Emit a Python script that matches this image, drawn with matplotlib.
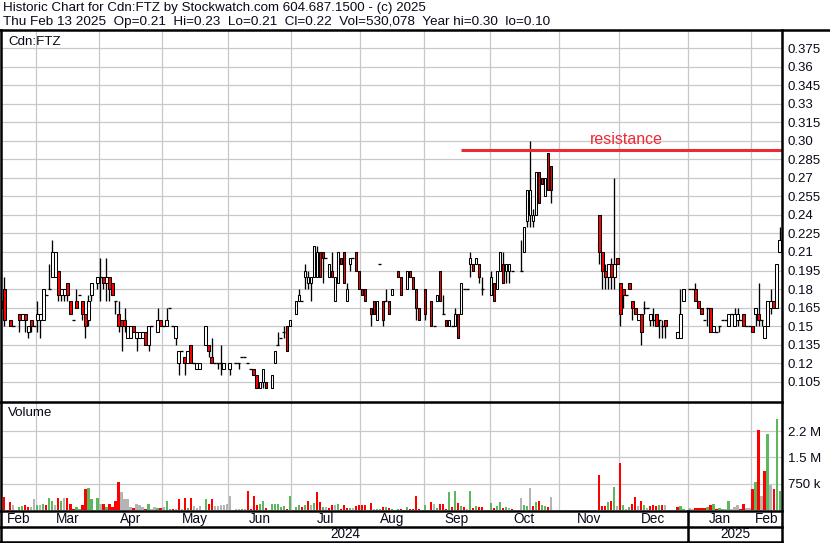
import numpy as np
import pandas as pd
import matplotlib
matplotlib.use("Agg")
import matplotlib.pyplot as plt
from matplotlib.transforms import blended_transform_factory

plt.rcParams['font.family'] = ['Liberation Sans', 'DejaVu Sans']

N = None  # no trade that day

# daily candles, one slot per trading day (Feb 13 2024 .. Feb 13 2025)
opens = [
    .17, .18, N, .155, .15, N, .16, .155, .16, .145,
    .155, .15, .155, .155, .155, .175, .18, .19, .19, .195,
    .175, .175, .185, .17, .155, .17, .175, .17, .16, .155,
    .175, N, .185, .19, .19, .185, .19, .185, .17, .16,
    .155, .155, .14, .14, .15, .14, .14, .14, .145, .135,
    .15, N, .145, .155, .15, .15, .165, .15, .14, .12,
    .13, .125, .12, .135, .12, .115, .115, N, .135, .135,
    .125, .12, .12, .12, .115, N, .115, N, .12, .12,
    .125, .125, .12, .115, .115, .11, .10, .105, .105, N,
    .10, .12, .135, .14, .145, .15, .15, N, .16, .17,
    .17, .19, .185, .185, .19, .19, .21, .21, .205, .19,
    .195, .17, .185, .205, .21, .17, .20, .205, .21, .195,
    .18, .18, N, .165, .17, .155, .20, .17, .17, .17,
    .175, N, .195, .19, N, .18, .195, .19, .18, .165,
    N, .18, N, .17, .15, .17, .195, .16, .155, .15,
    .15, .15, .16, .16, .18, .18, .20, .20, .20, .20,
    .18, N, N, .175, .185, .18, .195, .20, .195, .195,
    .195, N, N, .195, .21, .235, .24, .235, .24, .275,
    .27, .255, .29, .28, N, N, N, N, N, N,
    N, N, N, N, N, N, N, N, N, .24,
    .21, .195, .19, .20, .19, .205, .185, .18, .175, .185,
    .17, .165, .155, .16, .165, .165, .155, .155, .16, .155,
    .15, .155, N, N, N, .14, .14, .17, N, .18,
    .18, .18, .17, .165, .155, .165, .165, .145, .145, .15,
    .155, .155, .15, .16, .15, .155, .155, .16, .15, .15,
    .15, .16, .16, .155, .14, .15, .165, .17, .165, .21,
]
highs = [
    .17, .19, N, .155, .15, N, .16, .16, .16, .15,
    .155, .15, .17, .16, .18, .175, .20, .22, .21, .195,
    .18, .18, .185, .17, .155, .18, .175, .17, .16, .175,
    .185, N, .19, .205, .19, .205, .19, .185, .17, .17,
    .155, .165, .15, .15, .15, .145, .145, .145, .145, .15,
    .15, N, .165, .155, .15, .165, .165, .15, .15, .13,
    .13, .125, .13, .135, .12, .12, .12, N, .15, .135,
    .14, .12, .12, .135, .12, N, .12, N, .12, .12,
    .125, .125, .12, .115, .115, .11, .105, .115, .105, N,
    .11, .13, .145, .14, .15, .15, .155, N, .17, .18,
    .17, .20, .195, .19, .215, .215, .21, .21, .205, .20,
    .21, .19, .21, .205, .21, .185, .205, .205, .21, .195,
    .18, .18, N, .165, .17, .17, .20, .17, .18, .17,
    .18, N, .195, .19, N, .195, .195, .19, .18, .165,
    N, .18, N, .17, .15, .175, .195, .175, .155, .155,
    .15, .165, .16, .185, .18, .18, .21, .20, .205, .20,
    .19, N, N, .195, .185, .195, .21, .21, .20, .20,
    .195, N, N, .22, .23, .26, .30, .245, .275, .275,
    .27, .27, .29, .28, N, N, N, N, N, N,
    N, N, N, N, N, N, N, N, N, .24,
    .21, .20, .20, .205, .27, .205, .185, .18, .175, .185,
    .17, .165, .16, .16, .17, .165, .16, .165, .16, .155,
    .155, .155, N, N, N, .145, .18, .18, N, .18,
    .18, .185, .17, .165, .155, .165, .165, .15, .145, .15,
    .155, .155, .16, .16, .165, .165, .155, .16, .15, .15,
    .15, .165, .185, .155, .15, .17, .18, .17, .20, .23,
]
lows = [
    .165, .15, N, .15, .15, N, .145, .155, .145, .14,
    .145, .15, .145, .14, .155, .175, .18, .19, .19, .17,
    .17, .17, .17, .16, .155, .165, .175, .155, .14, .15,
    .17, N, .18, .17, .18, .17, .17, .175, .16, .145,
    .13, .145, .14, .14, .145, .13, .14, .14, .135, .13,
    .15, N, .145, .15, .15, .15, .165, .15, .135, .11,
    .13, .11, .12, .12, .12, .115, .115, N, .135, .125,
    .12, .12, .115, .11, .115, N, .11, N, .12, .115,
    .125, .125, .12, .115, .11, .10, .10, .10, .10, N,
    .10, .12, .135, .14, .14, .13, .15, N, .16, .17,
    .17, .18, .18, .17, .19, .19, .19, .185, .205, .19,
    .19, .17, .185, .20, .185, .17, .195, .205, .195, .18,
    .175, .17, N, .15, .16, .155, .20, .15, .17, .16,
    .175, N, .19, .175, N, .18, .19, .18, .155, .155,
    N, .155, N, .15, .15, .17, .17, .16, .15, .15,
    .15, .15, .14, .16, .18, .18, .19, .195, .20, .185,
    .175, N, N, .175, .17, .18, .195, .185, .185, .185,
    .195, N, N, .195, .21, .23, .23, .23, .24, .25,
    .265, .255, .26, .25, N, N, N, N, N, N,
    N, N, N, N, N, N, N, N, N, .20,
    .18, .18, .18, .18, .18, .20, .15, .165, .175, .18,
    .155, .16, .155, .135, .16, .165, .15, .15, .15, .14,
    .14, .14, N, N, N, .14, .14, .17, N, .18,
    .18, .17, .165, .16, .155, .15, .145, .145, .145, .145,
    .155, .155, .15, .16, .15, .15, .155, .15, .15, .15,
    .145, .15, .15, .15, .14, .15, .16, .165, .165, .21,
]
closes = [
    .165, .155, N, .15, .15, N, .155, .16, .155, .15,
    .15, .15, .16, .16, .18, .175, .18, .21, .21, .175,
    .18, .18, .175, .16, .155, .165, .175, .16, .15, .17,
    .185, N, .19, .19, .185, .19, .18, .175, .17, .15,
    .15, .15, .15, .15, .145, .145, .145, .145, .135, .15,
    .15, N, .155, .15, .15, .155, .165, .15, .15, .13,
    .13, .12, .13, .12, .12, .12, .12, N, .15, .13,
    .12, .12, .12, .12, .12, N, .12, N, .12, .12,
    .125, .125, .12, .115, .11, .10, .105, .115, .10, N,
    .11, .13, .135, .14, .145, .13, .155, N, .17, .175,
    .17, .195, .19, .19, .215, .21, .19, .205, .205, .20,
    .19, .19, .21, .20, .185, .18, .205, .205, .195, .18,
    .175, .17, N, .16, .16, .17, .20, .155, .17, .16,
    .18, N, .19, .175, N, .195, .19, .18, .165, .155,
    N, .16, N, .15, .15, .175, .17, .16, .15, .155,
    .15, .16, .14, .185, .18, .18, .205, .195, .205, .19,
    .18, N, N, .19, .17, .195, .21, .185, .20, .20,
    .195, N, N, .195, .23, .26, .26, .24, .275, .25,
    .265, .27, .26, .26, N, N, N, N, N, N,
    N, N, N, N, N, N, N, N, N, .21,
    .195, .19, .20, .19, .20, .20, .16, .175, .175, .18,
    .165, .16, .16, .145, .165, .165, .16, .155, .15, .155,
    .15, .15, N, N, N, .145, .16, .18, N, .18,
    .18, .17, .165, .16, .155, .165, .145, .15, .145, .15,
    .155, .155, .16, .16, .16, .16, .155, .15, .15, .15,
    .145, .165, .155, .155, .15, .17, .17, .165, .20, .22,
]
# daily volume, thousands of shares
volume_k = [
    60, 385, 0, 240, 150, 0, 77, 115, 150, 96,
    77, 300, 150, 150, 170, 150, 330, 270, 150, 355,
    270, 330, 330, 180, 40, 96, 40, 150, 595, 615,
    300, 0, 330, 180, 180, 96, 180, 96, 270, 790,
    500, 300, 300, 96, 67, 180, 150, 96, 40, 180,
    40, 96, 67, 67, 96, 270, 40, 40, 40, 300,
    40, 330, 67, 355, 125, 67, 125, 0, 300, 180,
    300, 125, 125, 150, 150, 180, 410, 0, 40, 30,
    30, 30, 555, 40, 410, 150, 180, 270, 67, 0,
    180, 180, 180, 96, 125, 40, 410, 0, 96, 150,
    96, 150, 270, 150, 210, 500, 240, 96, 96, 67,
    150, 150, 180, 40, 150, 67, 67, 67, 125, 150,
    150, 150, 0, 210, 40, 40, 40, 96, 96, 67,
    40, 0, 40, 40, 0, 96, 40, 40, 410, 40,
    0, 150, 0, 240, 180, 67, 180, 180, 40, 500,
    96, 555, 210, 125, 96, 40, 555, 67, 125, 96,
    96, 0, 0, 210, 67, 125, 240, 67, 96, 67,
    40, 0, 0, 355, 150, 125, 615, 125, 240, 270,
    150, 125, 96, 385, 0, 0, 0, 0, 0, 0,
    0, 0, 0, 0, 0, 0, 0, 0, 0, 990,
    125, 125, 240, 270, 645, 125, 1330, 150, 40, 96,
    180, 385, 125, 270, 150, 67, 125, 150, 125, 150,
    150, 150, 0, 0, 0, 96, 125, 40, 0, 67,
    40, 67, 67, 67, 67, 96, 150, 180, 40, 67,
    40, 40, 270, 40, 96, 150, 40, 180, 67, 67,
    585, 790, 2280, 410, 1100, 2170, 700, 585, 2600, 530,
]

month_names = ['Feb', 'Mar', 'Apr', 'May', 'Jun', 'Jul', 'Aug',
               'Sep', 'Oct', 'Nov', 'Dec', 'Jan', 'Feb']
month_starts = [12, 33, 54, 76, 97, 120, 141, 163, 186, 206, 229, 250]
year_names = ['2024', '2025']
year_start = 229

price_ticks = [0.105, 0.12, 0.135, 0.15, 0.165, 0.18, 0.195, 0.21, 0.225,
               0.24, 0.255, 0.27, 0.285, 0.30, 0.315, 0.33, 0.345, 0.36, 0.375]
price_labels = ['0.105', '0.12', '0.135', '0.15', '0.165', '0.18', '0.195',
                '0.21', '0.225', '0.24', '0.255', '0.27', '0.285', '0.30',
                '0.315', '0.33', '0.345', '0.36', '0.375']
vol_ticks = [750e3, 1.5e6, 2.25e6]
vol_labels = ['750 k', '1.5 M', '2.2 M']

resistance = 0.293
resistance_from = 153

header1 = 'Historic Chart for Cdn:FTZ by Stockwatch.com 604.687.1500 - (c) 2025'
header2 = ('Thu Feb 13 2025  Op=0.21  Hi=0.23  Lo=0.21  Cl=0.22  '
           'Vol=530,078  Year hi=0.30  lo=0.10')

o = np.array(opens, dtype=float)
h = np.array(highs, dtype=float)
l = np.array(lows, dtype=float)
c = np.array(closes, dtype=float)
v = np.array(volume_k, dtype=float) * 1000
x = np.arange(len(o))

W, H = 830, 543
fig = plt.figure(figsize=(W / 100, H / 100), dpi=100)


def box(x0, y0, x1, y1, **kw):
    # axes placed by pixel box, y measured from the top
    return fig.add_axes([x0 / W, 1 - y1 / H, (x1 - x0) / W, (y1 - y0) / H], **kw)


XLIM = (0.23, 259.8)
GRID = '#c8c8c8'
INK = '#080818'
RED = '#ff0000'
GREEN = '#5cb85c'
GRAY = '#b4b4b4'

# price panel
ax = box(2, 31, 782, 401)
ax.set_xlim(*XLIM)
ax.set_ylim(0.0893, 0.389)
ax.set_xticks([m - 0.5 for m in month_starts])
ax.set_yticks(price_ticks)
ax.set_yticklabels(price_labels)
ax.grid(True, color=GRID, lw=0.9)
ax.set_axisbelow(True)
ax.yaxis.tick_right()
ax.tick_params(length=0, labelbottom=False, labelright=True, pad=4,
               labelsize=9.5, labelcolor=INK)
for s in ax.spines.values():
    s.set_visible(False)

ok = ~np.isnan(o)
flat = ok & (o == c)
body = ok & (o != c)
ax.vlines(x[ok], l[ok], h[ok], color='black', lw=0.95, zorder=2)
fill = np.where(c[body] < o[body], RED, 'white')
ax.bar(x[body], np.abs(c[body] - o[body]), bottom=np.minimum(o, c)[body],
       width=0.82, color=fill, edgecolor='black', lw=0.75, zorder=3)
ax.hlines(o[flat], x[flat] - 0.5, x[flat] + 0.5, color='black', lw=0.95, zorder=3)

ax.hlines(resistance, resistance_from, XLIM[1], color='#ec2a35', lw=2.2, zorder=4)
ax.text(208, 0.3013, 'resistance', color='#ec2a35', fontsize=11.5,
        ha='center', va='center', zorder=4)

# volume panel
axv = box(2, 402, 782, 510)
axv.set_xlim(*XLIM)
axv.set_ylim(0, 3.08e6)
axv.set_xticks([m - 0.5 for m in month_starts])
axv.set_yticks(vol_ticks)
axv.set_yticklabels(vol_labels)
axv.grid(True, color=GRID, lw=0.9)
axv.set_axisbelow(True)
axv.yaxis.tick_right()
axv.tick_params(length=0, labelbottom=False, labelright=True, pad=4,
                labelsize=9.5, labelcolor=INK)
for s in axv.spines.values():
    s.set_visible(False)

prev = pd.Series(c).ffill().shift(1).to_numpy()
vcol = np.where(np.isnan(c) | np.isnan(prev) | (c == prev), GRAY,
                np.where(c > prev, GREEN, RED))
axv.bar(x, v, width=0.72, color=vcol, lw=0)

# frame, labels and date rows
ov = fig.add_axes([0, 0, 1, 1], zorder=10)
ov.set_xlim(0, W)
ov.set_ylim(H, 0)
ov.axis('off')
ov.patch.set_alpha(0)
lw = 1.8
ov.plot([0, W], [30, 30], color='black', lw=lw)
for yy in (401.5, 510.5, 527, 541.5):
    ov.plot([0, 782], [yy, yy], color='black', lw=lw)
ov.plot([1, 1], [30, 542], color='black', lw=lw)
ov.plot([782, 782], [30, 542], color='black', lw=lw)

ov.text(3, 8, header1, fontsize=9.6, color=INK, va='center')
ov.text(3, 22, header2, fontsize=9.7, color=INK, va='center')
ov.text(8, 42, 'Cdn:FTZ', fontsize=9.6, color=INK, va='center')
ov.text(8, 413, 'Volume', fontsize=9.6, color=INK, va='center')

tr = blended_transform_factory(axv.transData, ov.transData)
edges = [XLIM[0]] + [m - 0.5 for m in month_starts] + [XLIM[1]]
for i, name in enumerate(month_names):
    ov.text((edges[i] + edges[i + 1]) / 2, 519, name, transform=tr,
            fontsize=9.8, color=INK, ha='center', va='center')
yedges = [XLIM[0], year_start - 0.5, XLIM[1]]
for i, name in enumerate(year_names):
    ov.text((yedges[i] + yedges[i + 1]) / 2, 534.5, name, transform=tr,
            fontsize=9.8, color=INK, ha='center', va='center')
ov.plot([year_start - 0.5] * 2, [510.5, 541.5], transform=tr, color='black', lw=lw)

fig.savefig('out.png', dpi=100)
